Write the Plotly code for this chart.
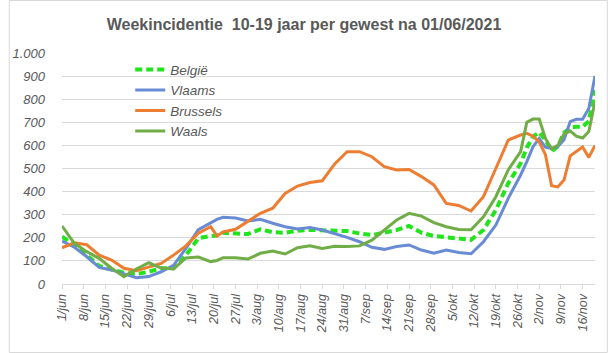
import datetime as dt
import plotly.graph_objects as go

START = dt.date(2021, 6, 1)

# day offsets after 1 June 2021
DAYS = [0, 4, 8, 12, 16, 20, 24, 28, 32, 36, 40, 44, 48, 50, 52, 56, 60, 64, 68, 72,
        76, 80, 84, 88, 92, 96, 100, 104, 108, 112, 116, 120, 124, 128, 132, 136, 140,
        144, 148, 150, 152, 154, 156, 158, 160, 162, 164, 166, 168, 170, 172]

BELGIE = [205, 169, 125, 78, 63, 49, 43, 53, 68, 68, 125, 198, 208, 210, 222, 219, 216,
          237, 224, 222, 231, 234, 231, 231, 229, 219, 212, 222, 234, 251, 222, 208, 202,
          193, 191, 234, 320, 436, 522, 590, 638, 657, 623, 575, 595, 655, 677, 681, 681,
          705, 840]

VLAAMS = [186, 159, 118, 72, 61, 43, 27, 32, 53, 81, 154, 235, 263, 280, 289, 286, 273,
          280, 263, 248, 238, 245, 234, 219, 202, 183, 159, 150, 162, 169, 147, 133, 147,
          136, 131, 183, 255, 371, 472, 530, 594, 630, 592, 587, 594, 625, 703, 713, 713,
          760, 900]

BRUSSELS = [157, 178, 170, 125, 104, 68, 58, 72, 89, 125, 165, 220, 248, 208, 225, 237,
            270, 306, 328, 392, 424, 439, 447, 520, 573, 573, 551, 508, 494, 496, 465, 429,
            349, 340, 316, 378, 500, 623, 645, 652, 640, 615, 560, 425, 420, 450, 555, 575,
            593, 548, 600]

WAALS = [251, 176, 140, 111, 68, 32, 65, 92, 69, 65, 113, 117, 97, 102, 114, 114, 108,
         133, 143, 130, 157, 165, 154, 163, 162, 165, 190, 234, 277, 306, 294, 266, 248,
         236, 235, 291, 378, 494, 573, 700, 714, 714, 630, 585, 600, 650, 662, 640, 632,
         660, 790]

TICK_LABELS = ["1/jun", "8/jun", "15/jun", "22/jun", "29/jun", "6/jul", "13/jul",
               "20/jul", "27/jul", "3/aug", "10/aug", "17/aug", "24/aug", "31/aug",
               "7/sep", "14/sep", "21/sep", "28/sep", "5/okt", "12/okt", "19/okt",
               "26/okt", "2/nov", "9/nov", "16/nov"]
Y_TICKS = [0, 100, 200, 300, 400, 500, 600, 700, 800, 900, 1000]

TITLE = "Weekincidentie  10-19 jaar per gewest na 01/06/2021"

dates = [START + dt.timedelta(days=d) for d in DAYS]
tickvals = [START + dt.timedelta(days=7 * i) for i in range(len(TICK_LABELS))]

FONT = "Liberation Sans"
GREY = "#595959"

fig = go.Figure()
fig.add_trace(go.Scatter(x=dates, y=BELGIE, name="België", mode="lines",
                         line=dict(color="#22E41A", width=4, dash="7px,4px")))
fig.add_trace(go.Scatter(x=dates, y=VLAAMS, name="Vlaams", mode="lines",
                         line=dict(color="#688BD3", width=3)))
fig.add_trace(go.Scatter(x=dates, y=BRUSSELS, name="Brussels", mode="lines",
                         line=dict(color="#ED7D31", width=3)))
fig.add_trace(go.Scatter(x=dates, y=WAALS, name="Waals", mode="lines",
                         line=dict(color="#70AD47", width=3)))

fig.update_layout(
    width=608, height=353,
    margin=dict(l=54, r=13, t=53, b=69),
    paper_bgcolor="white", plot_bgcolor="white",
    separators=",.",
    font=dict(family=FONT, color=GREY),
    title=dict(text="<b>" + TITLE + "</b>", x=0.5, xref="container", xanchor="center",
               y=1 - 24 / 353, yref="container", yanchor="middle",
               font=dict(family=FONT, size=16, color=GREY)),
    legend=dict(x=0.128, y=0.995, xanchor="left", yanchor="top",
                bgcolor="rgba(0,0,0,0)", tracegroupgap=0,
                font=dict(family=FONT, size=13.5, color=GREY, style="italic")),
    xaxis=dict(type="date",
               range=[START, START + dt.timedelta(days=172.3)],
               tickvals=tickvals, ticktext=TICK_LABELS, tickangle=-90,
               ticks="outside", ticklen=4, tickcolor="#D9D9D9",
               showline=True, linecolor="#D9D9D9", linewidth=1,
               showgrid=False, zeroline=False,
               tickfont=dict(family=FONT, size=12.5, color=GREY, style="italic")),
    yaxis=dict(range=[0, 1000], tickvals=Y_TICKS, tickformat=",d",
               showgrid=True, gridcolor="#D9D9D9", gridwidth=1,
               zeroline=False, showline=False, ticks="",
               ticklabelstandoff=16,
               tickfont=dict(family=FONT, size=13, color=GREY, style="italic")),
    shapes=[dict(type="rect", xref="paper", yref="paper",
                 x0=(0.5 - 54) / 541, x1=(607.5 - 54) / 541,
                 y0=(284 - 352.5) / 231, y1=(284 - 0.5) / 231,
                 line=dict(color="#D9D9D9", width=1), fillcolor="rgba(0,0,0,0)",
                 layer="below")],
)

fig.write_html("out.html")
